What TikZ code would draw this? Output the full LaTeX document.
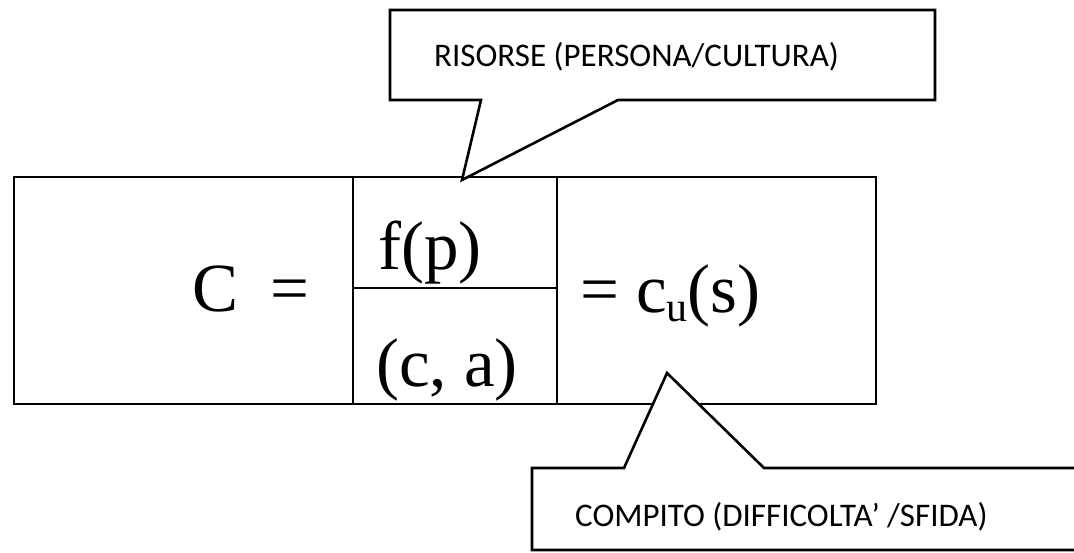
\documentclass[tikz,border=0pt]{standalone}
\usepackage{fontspec}
\setmainfont{Liberation Serif}
\newfontfamily\callfont{Carlito}
\begin{document}
\begin{tikzpicture}[x=1pt,y=-1pt,
  cell/.style={draw=black, line width=1.5pt, rectangle, inner sep=0pt, outer sep=0pt, anchor=north west},
  callout/.style={draw=black, fill=white, line width=2.6pt, line join=miter},
  mathtxt/.style={inner sep=0pt, anchor=base west, font=\fontsize{69}{69}\selectfont},
  calltxt/.style={inner sep=0pt, anchor=base west, font=\callfont\fontsize{33}{33}\selectfont}]
\useasboundingbox (0,0) rectangle (1074,553);
\clip (0,0) rectangle (1074,553);
\fill[white] (0,0) rectangle (1074,553);
% table cells
\node[cell, minimum width=339pt, minimum height=227pt] (cellL) at (14,177) {};
\node[cell, minimum width=204pt, minimum height=111pt] (cellMt) at (353,177) {};
\node[cell, minimum width=204pt, minimum height=116pt] (cellMb) at (353,288) {};
\node[cell, minimum width=319pt, minimum height=227pt] (cellR) at (557,177) {};
% top callout
\coordinate (tipTop) at (462,180);
\draw[callout] (390,10) -- (935,10) -- (935,100) -- (618,100) -- (tipTop) -- (481,100) -- (390,100) -- cycle;
% bottom callout
\coordinate (tipBot) at (667,373);
\draw[callout] (532,468) -- (624,468) -- (tipBot) -- (764,468) -- (1090,468) -- (1090,550) -- (532,550) -- cycle;
% texts
\node[calltxt] (risorse) at (434,67) {RISORSE (PERSONA/CULTURA)};
\node[calltxt] (compito) at (575,526) {COMPITO (DIFFICOLTA’ /SFIDA)};
\node[mathtxt] (C) at (192,312) {C};
\node[mathtxt] (eq) at (270,312) {=};
\node[mathtxt] (fp) at (378,270) {f(p)};
\node[mathtxt] (ca) at (376,386) {(c, a)};
\node[mathtxt] (cus) at (580,313) {= c\raisebox{-9pt}{\fontsize{42}{42}\selectfont u}(s)};
\end{tikzpicture}
\end{document}
